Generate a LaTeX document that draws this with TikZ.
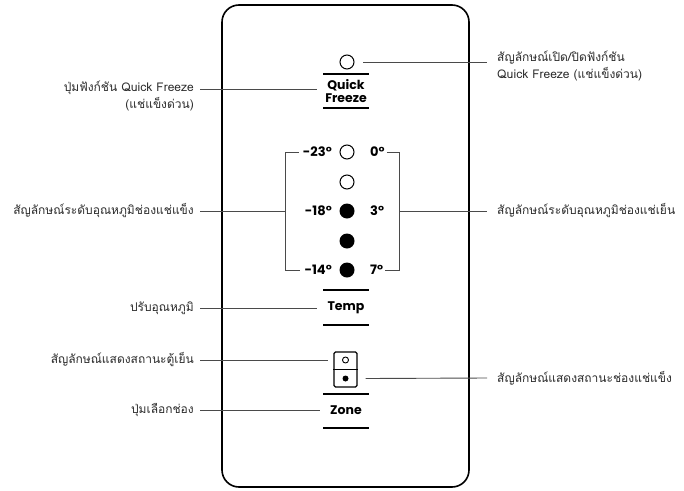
\documentclass[tikz,border=0pt]{standalone}
\usepackage{fontspec}
\newfontfamily\thaifont[Script=Thai]{Loma}
\newfontfamily\panelfont{Poppins}
\definecolor{leadgray}{HTML}{4A4A4A}
\definecolor{txtgray}{HTML}{2A2A2A}
\begin{document}
\begin{tikzpicture}[x=1pt,y=-1pt,
  leader/.style={draw=leadgray,line width=0.9pt},
  bar/.style={draw=black,line width=1.4pt},
  lbl/.style={font=\thaifont\fontsize{12}{17}\selectfont,text=txtgray,inner sep=0pt},
  lbll/.style={lbl,anchor=east,align=right},
  lblr/.style={lbl,anchor=west,align=left},
  key/.style={font=\panelfont\bfseries\fontsize{12.5}{13}\selectfont,inner sep=0pt,align=center},
  deg/.style={font=\panelfont\bfseries\fontsize{13}{14}\selectfont,inner sep=0pt},
  ledo/.style={circle,draw,line width=1pt,minimum size=14pt,inner sep=0pt},
  ledf/.style={circle,fill,minimum size=15pt,inner sep=0pt}]
\useasboundingbox (0,0) rectangle (684,490);
% panel
\draw[line width=1.6pt,rounded corners=17pt] (222,5) rectangle (469,487);

% Quick Freeze
\node[ledo] (qfled) at (347,62) {};
\node[key] (qf) at (346,91.5) {Quick\\Freeze};
\draw[bar] (323,74) -- (369,74);
\draw[bar] (323,108) -- (369,108);
\node[lbll] (lqf) at (194,96) {ปุ่มฟังก์ชัน Quick Freeze\\(แช่แข็งด่วน)};
\node[lblr] (rqf) at (497,66) {สัญลักษณ์เปิด/ปิดฟังก์ชัน\\Quick Freeze (แช่แข็งด่วน)};
\coordinate (lqfe) at (200,89);
\coordinate (rqfe) at (487,62);
\draw[leader] (lqfe) -- (317,89);
\draw[leader] ([xshift=16pt]qfled.center) -- (rqfe);

% temperature LEDs
\node[ledo] (t1) at (347,152) {};
\node[ledo] (t2) at (347,182) {};
\node[ledf] (t3) at (347,211) {};
\node[ledf] (t4) at (347,241) {};
\node[ledf] (t5) at (347,270) {};
\node[deg,anchor=east] (l1) at (332,152) {-23°};
\node[deg,anchor=east] (l3) at (332,211) {-18°};
\node[deg,anchor=east] (l5) at (332,270) {-14°};
\node[deg,anchor=west] (r1) at (370,152) {0°};
\node[deg,anchor=west] (r3) at (370,211) {3°};
\node[deg,anchor=west] (r5) at (370,270) {7°};
\coordinate (bl) at (285,211);
\coordinate (br) at (399,211);
\draw[leader] ([xshift=-4pt]l1.west) -- (l1.west -| bl) -- (l5.west -| bl) -- ([xshift=-4pt]l5.west);
\draw[leader] ([xshift=2pt]r1.east) -- (r1.east -| br) -- (r5.east -| br) -- ([xshift=2pt]r5.east);
\node[lbll] (lt) at (194,211) {สัญลักษณ์ระดับอุณหภูมิช่องแช่แข็ง};
\node[lblr] (rt) at (497,211) {สัญลักษณ์ระดับอุณหภูมิช่องแช่เย็น};
\draw[leader] ([xshift=6pt]lt.east) -- (bl);
\draw[leader] (br) -- (487,211);

% Temp
\node[key] (temp) at (346,308) {Temp};
\draw[bar] (323,290) -- (369,290);
\draw[bar] (323,325) -- (369,325);
\node[lbll] (ltemp) at (194,308) {ปรับอุณหภูมิ};
\draw[leader] ([xshift=6pt]ltemp.east) -- (317,308);

% zone indicator
\node[draw,line width=1.2pt,rounded corners=1.5pt,minimum width=23pt,minimum height=35pt,inner sep=0pt] (zbox) at (345.5,369.5) {};
\draw[line width=1.2pt] (zbox.west) -- (zbox.east);
\node[circle,draw,line width=0.9pt,minimum size=6pt,inner sep=0pt] (zo) at (345.5,360) {};
\node[circle,fill,minimum size=6pt,inner sep=0pt] (zf) at (345.5,378.5) {};
\node[lbll] (lzs) at (194,360) {สัญลักษณ์แสดงสถานะตู้เย็น};
\node[lblr] (rzs) at (497,378) {สัญลักษณ์แสดงสถานะช่องแช่แข็ง};
\draw[leader] ([xshift=6pt]lzs.east) -- ([xshift=-5pt]zbox.west |- zo);
\draw[leader] ([xshift=8pt]zbox.east |- zf) -- (487,378);

% Zone
\node[key] (zone) at (346,410) {Zone};
\draw[bar] (323,394) -- (369,394);
\draw[bar] (323,428) -- (369,428);
\node[lbll] (lzone) at (194,410) {ปุ่มเลือกช่อง};
\draw[leader] ([xshift=6pt]lzone.east) -- (320,410);
\end{tikzpicture}
\end{document}
